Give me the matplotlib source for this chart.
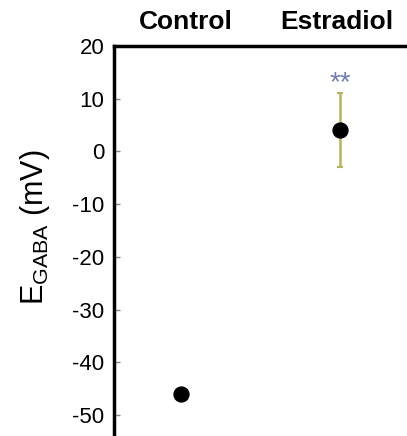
import matplotlib.pyplot as plt
from matplotlib.transforms import offset_copy

groups = ["Control", "Estradiol"]
means = [-46, 4]
err_low = [0, 7]
err_high = [0, 7]
yticks = [-50, -40, -30, -20, -10, 0, 10, 20]

plt.rcParams['font.family'] = ['Liberation Sans', 'DejaVu Sans']

fig = plt.figure(figsize=(4.07, 4.36), dpi=100)
# axes are cut off at the right and bottom edges like the original crop
ax = fig.add_axes([114 / 407, 0, 400 / 407, 390 / 436])

x = [1, 2]
ax.errorbar(x[1], means[1], yerr=[[err_low[1]], [err_high[1]]], fmt='none',
            ecolor='#b5b45c', elinewidth=1.8, capsize=2, capthick=1.5, zorder=2)
ax.scatter(x, means, s=115, color='black', zorder=3)
ax.text(x[1], 10.5, "**", ha='center', va='bottom', fontsize=20, color='#6f7cb0')

ax.set_xlim(0.579, 0.579 + 400 / 159)
ax.set_ylim(-54, 20)
ax.set_yticks(yticks)
ax.set_yticklabels([str(t) for t in yticks], fontsize=16)
ax.set_xticks([])
ax.tick_params(axis='y', direction='in', length=4, width=1, color='#888888', pad=7)

for s in ['left', 'top']:
    ax.spines[s].set_linewidth(2.5)
for s in ['right', 'bottom']:
    ax.spines[s].set_visible(False)

# column headers sit a little off the data positions in the original
shifts = [5, -3]
for xi, g, dx in zip(x, groups, shifts):
    tr = offset_copy(ax.get_xaxis_transform(), fig=fig, x=dx, y=0, units='dots')
    ax.text(xi, 1 + 24 / 390, g, transform=tr, ha='center', va='center',
            fontsize=19, fontweight='bold')

fig.text(35 / 407, 1 - 227 / 436, r"E$_{\mathregular{GABA}}$ (mV)", rotation=90,
         ha='center', va='center', fontsize=22)

fig.savefig("out.png", dpi=100)
